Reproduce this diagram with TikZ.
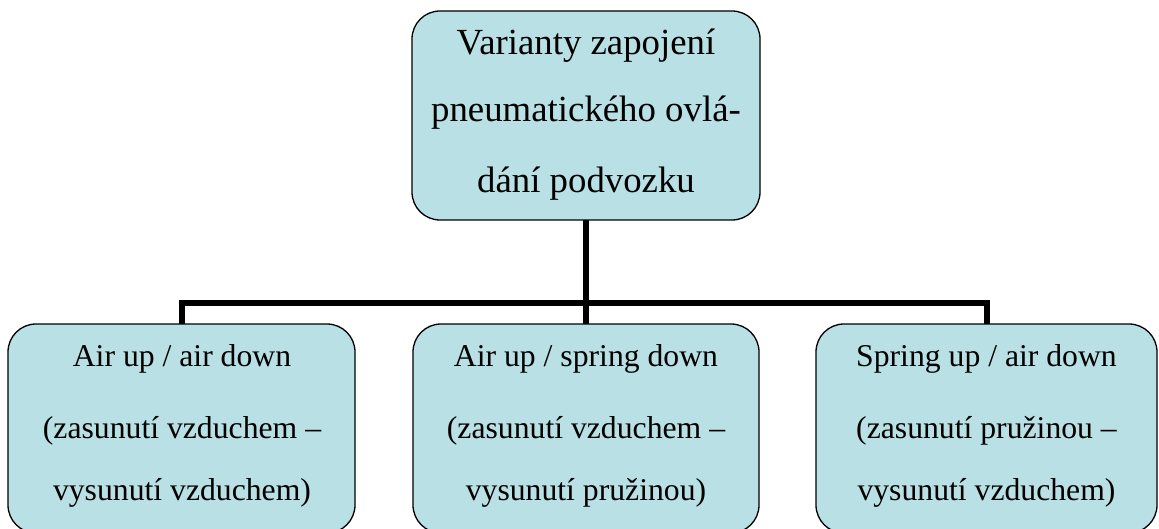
\documentclass[tikz,border=0pt]{standalone}
\usepackage{fontspec}
\setmainfont{Liberation Serif}
\definecolor{boxfill}{RGB}{185,224,228}
\tikzset{
  card/.style={draw=black, line width=1.3pt, fill=boxfill, rounded corners=28pt,
    rectangle, inner sep=0pt, outer sep=0pt},
  headtext/.style={inner sep=0pt, anchor=base, font=\fontsize{36.8}{44}\selectfont},
  itemtext/.style={inner sep=0pt, anchor=base, font=\fontsize{31.7}{38}\selectfont},
  link/.style={draw=black, line width=6pt}
}
\begin{document}
\begin{tikzpicture}[x=1pt,y=-1pt]
\useasboundingbox (0,0) rectangle (1159,529);

% boxes
\node[card, minimum width=348pt, minimum height=209pt] (top) at (586,115.5) {};
\node[card, minimum width=347pt, minimum height=209pt] (left) at (181.5,428.5) {};
\node[card, minimum width=346pt, minimum height=209pt] (mid) at (586,428.5) {};
\node[card, minimum width=341pt, minimum height=209pt] (right) at (986.5,428.5) {};

% connectors
\coordinate (bus) at (585.5,303);
\draw[link] (top.south -| bus) -- (bus);
\draw[link] (bus) -- (mid.north -| bus);
\draw[link] (left.north) |- (bus) -| (right.north);

% head text
\node[headtext] (h1) at (586,55) {Varianty zapojení};
\node[headtext] (h2) at (586,122) {pneumatického ovlá-};
\node[headtext] (h3) at (586,193) {dání podvozku};

% left box text
\node[itemtext] (l1) at (182,366) {Air up / air down};
\node[itemtext] (l2) at (182,438) {(zasunutí vzduchem –};
\node[itemtext] (l3) at (182,500) {vysunutí vzduchem)};

% middle box text
\node[itemtext] (m1) at (586,366) {Air up / spring down};
\node[itemtext] (m2) at (586,438) {(zasunutí vzduchem –};
\node[itemtext] (m3) at (586,500) {vysunutí pružinou)};

% right box text
\node[itemtext] (r1) at (986.5,366) {Spring up / air down};
\node[itemtext] (r2) at (986.5,438) {(zasunutí pružinou –};
\node[itemtext] (r3) at (986.5,500) {vysunutí vzduchem)};
\end{tikzpicture}
\end{document}
